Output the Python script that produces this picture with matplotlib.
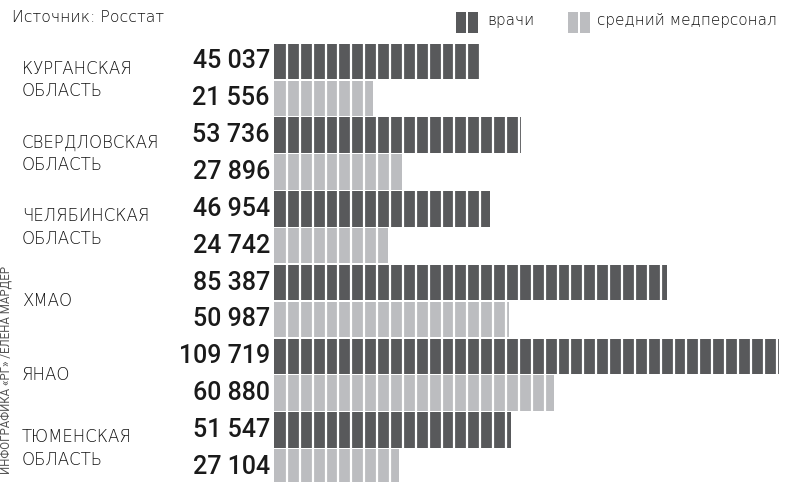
import numpy as np
import matplotlib
matplotlib.use("Agg")
import matplotlib.pyplot as plt
from matplotlib.patches import Rectangle

# data (Росстат)
regions = ["КУРГАНСКАЯ\nОБЛАСТЬ", "СВЕРДЛОВСКАЯ\nОБЛАСТЬ", "ЧЕЛЯБИНСКАЯ\nОБЛАСТЬ",
           "ХМАО", "ЯНАО", "ТЮМЕНСКАЯ\nОБЛАСТЬ"]
doctors = [45037, 53736, 46954, 85387, 109719, 51547]
nurses = [21556, 27896, 24742, 50987, 60880, 27104]
series_names = ["врачи", "средний медперсонал"]

dark = "#58595b"
light = "#bcbdc0"
seg = 2800  # width of one bar segment, in data units
numfont = "Roboto"
txtfont = "DejaVu Sans"

W, H = 792, 482
fig = plt.figure(figsize=(W / 100, H / 100), dpi=100)

# bar axes: x=0 at pixel 274, 109719 at pixel 779
xmax = 112000
ax_w = 505 / 109719 * xmax
ax = fig.add_axes([274 / W, 0, ax_w / W, 1])
ax.set_xlim(0, xmax)
ax.set_ylim(5.705, -0.834)
ax.axis("off")

y = np.arange(len(regions))
off = 0.5
h = 0.48

ax.barh(y, doctors, height=h, color=dark, linewidth=0)
ax.barh(y + off, nurses, height=h, color=light, linewidth=0)

# white separators between segments
for yi, vals in [(y, doctors), (y + off, nurses)]:
    for yy, v in zip(yi, vals):
        xs = np.arange(seg, v, seg)
        ax.vlines(xs, yy - h / 2, yy + h / 2, color="white", linewidth=1.6)

def fmt(v):
    return f"{v:,}".replace(",", " ")

for yi, vals in [(y, doctors), (y + off, nurses)]:
    for yy, v in zip(yi, vals):
        ax.text(-900, yy, fmt(v), ha="right", va="center", fontsize=18,
                family=numfont, fontweight="medium", color="#1a1a1a")

# region names
for yy, name in zip(y + off / 2, regions):
    ax.annotate(name, xy=(0, yy), xycoords=("figure fraction", "data"),
                xytext=(22, 0), textcoords="offset pixels",
                ha="left", va="center", fontsize=12, family=txtfont,
                fontweight="light", color="#111111", linespacing=1.3)

# source
fig.text(12 / W, 1 - 17 / H, "Источник: Росстат", ha="left", va="center",
         fontsize=11.3, family=txtfont, fontweight="light", color="#111111")

# legend
def swatch(x0, color):
    fig.add_artist(Rectangle((x0 / W, 1 - 33 / H), 22 / W, 21 / H,
                             transform=fig.transFigure, color=color, lw=0))
    fig.add_artist(Rectangle(((x0 + 10) / W, 1 - 33 / H), 1.5 / W, 21 / H,
                             transform=fig.transFigure, color="white", lw=0))

swatch(456, dark)
fig.text(487 / W, 1 - 21 / H, series_names[0], ha="left", va="center",
         fontsize=11, family=txtfont, fontweight="light", color="#111111")
swatch(568, light)
fig.text(597 / W, 1 - 21 / H, series_names[1], ha="left", va="center",
         fontsize=11, family=txtfont, fontweight="light", color="#111111")

# credit
fig.text(6 / W, 1 - 370 / H, "ИНФОГРАФИКА «РГ» /ЕЛЕНА МАРДЕР", rotation=90,
         ha="center", va="center", fontsize=8.3, family=numfont, color="#555555")

fig.savefig("out.png", dpi=100)
